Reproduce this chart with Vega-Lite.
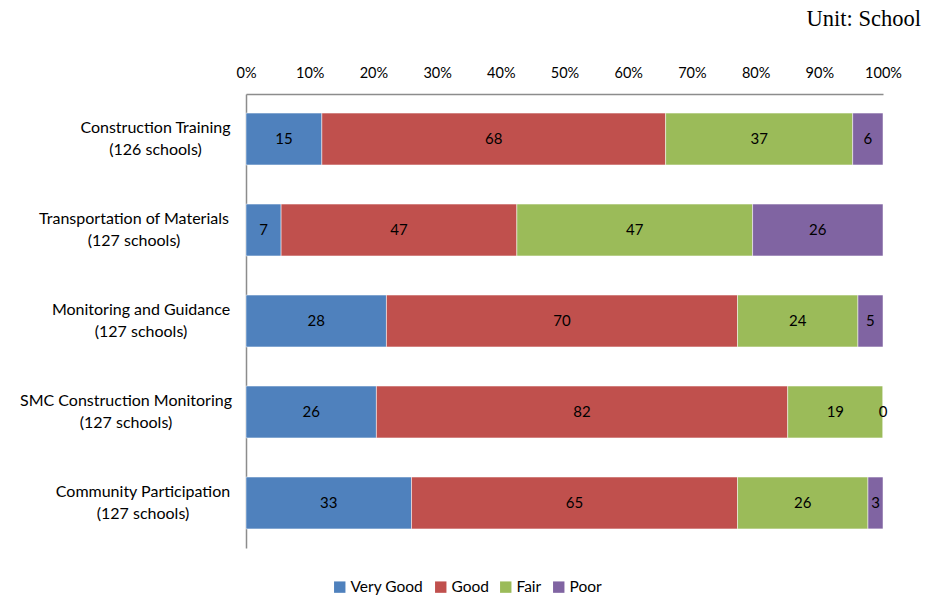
{
  "$schema": "https://vega.github.io/schema/vega-lite/v6.json",
  "width": 637,
  "height": 454,
  "autosize": {"type": "none"},
  "padding": {"left": 246, "top": 94, "right": 44, "bottom": 65},
  "background": "white",
  "config": {"view": {"stroke": null}, "font": "Lato"},
  "title": {
    "text": "Unit: School",
    "anchor": "end",
    "frame": "group",
    "dx": 38,
    "offset": 35,
    "font": "Liberation Serif",
    "fontSize": 22.5,
    "fontWeight": "normal",
    "color": "black"
  },
  "data": {
    "values": [
      {"label": "Construction Training|(126 schools)", "rating": "Very Good", "o": 1, "count": 15},
      {"label": "Construction Training|(126 schools)", "rating": "Good", "o": 2, "count": 68},
      {"label": "Construction Training|(126 schools)", "rating": "Fair", "o": 3, "count": 37},
      {"label": "Construction Training|(126 schools)", "rating": "Poor", "o": 4, "count": 6},
      {"label": "Transportation of Materials|(127 schools)", "rating": "Very Good", "o": 1, "count": 7},
      {"label": "Transportation of Materials|(127 schools)", "rating": "Good", "o": 2, "count": 47},
      {"label": "Transportation of Materials|(127 schools)", "rating": "Fair", "o": 3, "count": 47},
      {"label": "Transportation of Materials|(127 schools)", "rating": "Poor", "o": 4, "count": 26},
      {"label": "Monitoring and Guidance|(127 schools)", "rating": "Very Good", "o": 1, "count": 28},
      {"label": "Monitoring and Guidance|(127 schools)", "rating": "Good", "o": 2, "count": 70},
      {"label": "Monitoring and Guidance|(127 schools)", "rating": "Fair", "o": 3, "count": 24},
      {"label": "Monitoring and Guidance|(127 schools)", "rating": "Poor", "o": 4, "count": 5},
      {"label": "SMC Construction Monitoring|(127 schools)", "rating": "Very Good", "o": 1, "count": 26},
      {"label": "SMC Construction Monitoring|(127 schools)", "rating": "Good", "o": 2, "count": 82},
      {"label": "SMC Construction Monitoring|(127 schools)", "rating": "Fair", "o": 3, "count": 19},
      {"label": "SMC Construction Monitoring|(127 schools)", "rating": "Poor", "o": 4, "count": 0},
      {"label": "Community Participation|(127 schools)", "rating": "Very Good", "o": 1, "count": 33},
      {"label": "Community Participation|(127 schools)", "rating": "Good", "o": 2, "count": 65},
      {"label": "Community Participation|(127 schools)", "rating": "Fair", "o": 3, "count": 26},
      {"label": "Community Participation|(127 schools)", "rating": "Poor", "o": 4, "count": 3}
    ]
  },
  "encoding": {
    "y": {
      "field": "label",
      "type": "nominal",
      "sort": null,
      "scale": {"paddingInner": 0.43, "paddingOuter": 0.21},
      "axis": {
        "title": null,
        "labelExpr": "split(datum.label, '|')",
        "labelAlign": "center",
        "labelBaseline": "middle",
        "labelFontSize": 16,
        "labelLineHeight": 22,
        "labelOffset": -11,
        "labelColor": "black",
        "labelLimit": 400,
        "labelPadding": {
          "condition": [
            {"test": "indexof(datum.value, 'Construction Training') == 0", "value": 91},
            {"test": "indexof(datum.value, 'Transportation') == 0", "value": 112.5},
            {"test": "indexof(datum.value, 'Monitoring and') == 0", "value": 105.5},
            {"test": "indexof(datum.value, 'SMC') == 0", "value": 120.5}
          ],
          "value": 103.5
        },
        "ticks": false,
        "domain": true,
        "domainColor": "#8c8c8c",
        "domainWidth": 1.5
      }
    },
    "x": {
      "field": "count",
      "type": "quantitative",
      "stack": "normalize",
      "scale": {"domain": [0, 1], "nice": false},
      "axis": {
        "orient": "top",
        "title": null,
        "format": ".0%",
        "values": [0, 0.1, 0.2, 0.3, 0.4, 0.5, 0.6, 0.7, 0.8, 0.9, 1],
        "grid": false,
        "ticks": false,
        "domainColor": "#8c8c8c",
        "domainWidth": 1.5,
        "labelFontSize": 14.5,
        "labelColor": "black",
        "labelPadding": 14,
        "labelFlush": false
      }
    },
    "order": {"field": "o", "type": "quantitative"}
  },
  "layer": [
    {
      "mark": {"type": "bar", "stroke": "white", "strokeWidth": 0.5},
      "encoding": {
        "color": {
          "field": "rating",
          "type": "nominal",
          "scale": {
            "domain": ["Very Good", "Good", "Fair", "Poor"],
            "range": ["#4F81BD", "#C0504D", "#9BBB59", "#8064A2"]
          },
          "legend": {
            "title": null,
            "orient": "none",
            "direction": "horizontal",
            "legendX": 86,
            "legendY": 485,
            "symbolType": "square",
            "symbolSize": 130,
            "symbolStrokeWidth": 0,
            "labelFontSize": 15.5,
            "labelColor": "black",
            "columnPadding": 9,
            "labelOffset": 3
          }
        }
      }
    },
    {
      "mark": {"type": "text", "fontSize": 15, "color": "black", "baseline": "middle", "align": "center"},
      "encoding": {
        "x": {"field": "count", "type": "quantitative", "stack": "normalize", "bandPosition": 0.5},
        "detail": {"field": "rating"},
        "text": {"field": "count", "type": "quantitative"}
      }
    }
  ]
}
